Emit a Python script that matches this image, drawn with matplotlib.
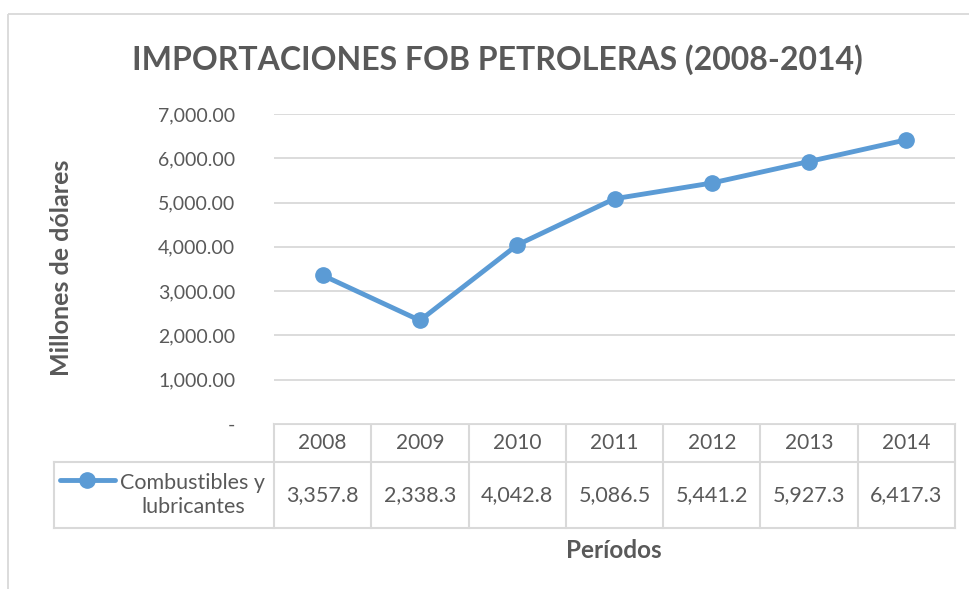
import matplotlib
matplotlib.use("Agg")
import matplotlib.pyplot as plt
from matplotlib.lines import Line2D
from matplotlib.patches import Rectangle

# data
periodos = ["2008", "2009", "2010", "2011", "2012", "2013", "2014"]
combustibles = [3357.8, 2338.3, 4042.8, 5086.5, 5441.2, 5927.3, 6417.3]
yticks = [0, 1000, 2000, 3000, 4000, 5000, 6000, 7000]
serie = "Combustibles y\nlubricantes"

W, H = 970, 589
azul = "#5B9BD5"
gris = "#595959"
borde = "#D9D9D9"
plt.rcParams["font.family"] = ["Lato", "DejaVu Sans"]

fig = plt.figure(figsize=(W / 100, H / 100), dpi=100)

# overlay in pixel coordinates for the frame and the data table
ov = fig.add_axes([0, 0, 1, 1])
ov.set_xlim(0, W)
ov.set_ylim(H, 0)
ov.axis("off")
ov.add_patch(Rectangle((8, 14), W + 20, H + 20, fill=False, ec=borde, lw=1.3))

# plot area
L, R, T, B = 274, 955, 114, 424
ax = fig.add_axes([L / W, 1 - B / H, (R - L) / W, (B - T) / H])
n = len(periodos)
x = list(range(n))
ax.plot(x, combustibles, color=azul, lw=3.5, marker="o", ms=11, solid_capstyle="round")
ax.set_xlim(-0.5, n - 0.5)
ax.set_ylim(0, 7000)
ax.set_yticks(yticks)
ax.set_yticklabels(["-" if v == 0 else f"{v:,.2f}" for v in yticks], color=gris, fontsize=14)
ax.tick_params(axis="y", length=0, pad=28)
ax.set_xticks([])
for s in ax.spines.values():
    s.set_visible(False)
ax.grid(axis="y", color=borde, lw=1.3)
ax.set_axisbelow(True)
ax.set_ylabel("Millones de dólares", fontsize=18, fontweight="bold", color=gris)
ax.yaxis.label.set_va("center")
ax.yaxis.set_label_coords(62 / W, 1 - 268 / H, transform=fig.transFigure)

fig.text(497 / W, 1 - 60 / H, "IMPORTACIONES FOB PETROLERAS (2008-2014)", ha="center", va="center",
         fontsize=23, fontweight="bold", color=gris)

# data table
cw = (R - L) / n
h0, h1, h2 = 424, 462, 528
leg_l = 54
ov.plot([L, R], [h0, h0], color=borde, lw=1.5)
ov.plot([leg_l, R], [h1, h1], color=borde, lw=1.5)
ov.plot([leg_l, R], [h2, h2], color=borde, lw=1.5)
ov.plot([leg_l, leg_l], [h1, h2], color=borde, lw=1.5)
for i in range(n + 1):
    ov.plot([L + i * cw] * 2, [h0, h2], color=borde, lw=1.5)
for i, (p, v) in enumerate(zip(periodos, combustibles)):
    cx = L + (i + 0.5) * cw
    ov.text(cx, (h0 + h1) / 2, p, ha="center", va="center", fontsize=15, color=gris)
    ov.text(cx, (h1 + h2) / 2, f"{v:,.1f}", ha="center", va="center", fontsize=15.5, color=gris)
ov.add_line(Line2D([60, 115], [480, 480], color=azul, lw=3.5, solid_capstyle="round"))
ov.plot([87], [480], marker="o", ms=11, color=azul)
ov.text(193, (h1 + h2) / 2, serie, ha="center", va="center", fontsize=15.5, color=gris, linespacing=1.25)

ov.text(614, 550, "Períodos", ha="center", va="center", fontsize=17.5, fontweight="bold", color=gris)

fig.savefig("out.png", dpi=100)
